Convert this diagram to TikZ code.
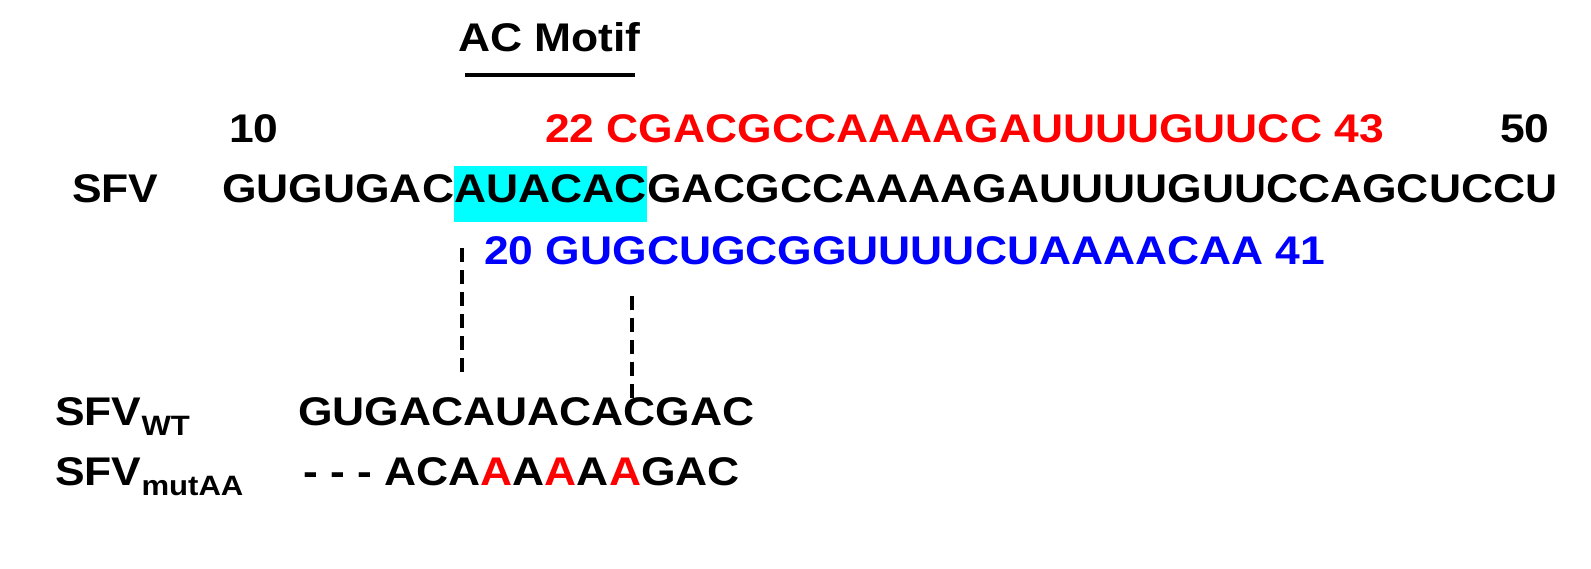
\documentclass[tikz,border=0pt]{standalone}
\usepackage{fontspec}
\setmainfont{Liberation Sans}[FakeStretch=1.11]
\definecolor{hl}{RGB}{0,255,255}
\definecolor{rd}{RGB}{255,0,0}
\definecolor{bl}{RGB}{0,0,255}
\begin{document}
\begin{tikzpicture}[x=1pt,y=-1pt,
  txt/.style={inner sep=0pt,anchor=base west,font=\fontsize{40}{44}\selectfont\bfseries},
  dsh/.style={line width=4pt,dash pattern=on 14pt off 8pt}]
\useasboundingbox (0,0) rectangle (1591,569);
\node[txt] (ac) at (458,52) {AC Motif};
\draw[line width=4pt] (465,75) -- (635,75);
\node[txt] (n10) at (229,143) {10};
\node[txt,text=rd] (red) at (545,143) {22 CGACGCCAAAAGAUUUUGUUCC 43};
\node[txt] (n50) at (1500,143) {50};
\node[txt] (sfv) at (72,203) {SFV};
\node[txt] (seqa) at (222,203) {GUGUGAC};
\node[txt,fill=hl,inner ysep=6pt] (seqb) at (seqa.base east) {\strut AUACAC};
\node[txt] (seqc) at (seqb.base east) {GACGCCAAAAGAUUUUGUUCCAGCUCCU};
\node[txt,text=bl] (blue) at (484,265) {20 GUGCUGCGGUUUUCUAAAACAA 41};
\coordinate (d1a) at (462,248); \coordinate (d1b) at (462,378);
\coordinate (d2a) at (632,296); \coordinate (d2b) at (632,398);
\draw[dsh] (d1a) -- (d1b);
\draw[dsh] (d2a) -- (d2b);
\node[txt] (wt) at (55,425) {SFV\textsubscript{WT}};
\node[txt] (wtseq) at (298,425) {GUGACAUACACGAC};
\node[txt] (mut) at (55,485) {SFV\textsubscript{mutAA}};
\node[txt] (mutseq) at (303,485) {- - - ACA\textcolor{rd}{A}A\textcolor{rd}{A}A\textcolor{rd}{A}GAC};
\end{tikzpicture}
\end{document}
